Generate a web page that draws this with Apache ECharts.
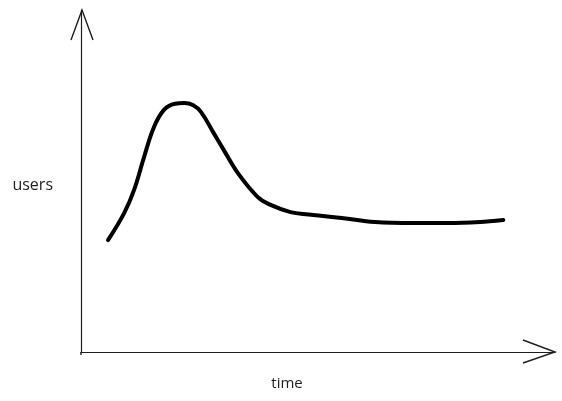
<!DOCTYPE html>
<html>
<head>
<meta charset="utf-8">
<script src="https://cdn.jsdelivr.net/npm/echarts@6/dist/echarts.min.js"></script>
<style>html,body{margin:0;padding:0;background:#fff}#c{width:562px;height:401px}</style>
</head>
<body>
<div id="c"></div>
<script>
var timeValues = [5.7, 9.1, 11.2, 13.3, 15.4, 17.5, 19.8, 21.8, 23.6, 25.3, 28.0, 30.1, 33.1, 37.3, 40.0, 44.2, 48.0, 55.0, 62.0, 70.1, 77.3, 84.2, 89.1];
var userValues = [32.7, 40.6, 47.4, 57.0, 65.8, 70.8, 72.6, 72.8, 72.2, 70.2, 64.0, 59.1, 52.3, 45.3, 43.0, 40.9, 40.2, 39.2, 38.0, 37.7, 37.7, 38.0, 38.6];
var xName = 'time';
var yName = 'users';

var chart = echarts.init(document.getElementById('c'));
var font = '"Open Sans", Lato, sans-serif';
var data = timeValues.map(function (t, i) { return [t, userValues[i]]; });
chart.setOption({
  animation: false,
  backgroundColor: '#ffffff',
  grid: { left: 81, right: 7, top: 10, bottom: 49, containLabel: false, outerBoundsMode: 'none' },
  xAxis: {
    type: 'value', min: 0, max: 100,
    name: xName, nameLocation: 'middle', nameGap: 24,
    nameTextStyle: { color: '#1e1e1e', fontSize: 15, fontFamily: font, padding: [0, 62, 0, 0] },
    axisLine: { show: true, onZero: false, lineStyle: { color: '#1e1e1e', width: 1.2 } },
    axisTick: { show: false }, axisLabel: { show: false }, splitLine: { show: false }
  },
  yAxis: {
    type: 'value', min: 0, max: 100,
    name: yName, nameLocation: 'middle', nameGap: 28, nameRotate: 0,
    nameTextStyle: { color: '#1e1e1e', fontSize: 16, fontFamily: font, verticalAlign: 'top', padding: [-4, 0, 0, 0] },
    axisLine: { show: true, onZero: false, lineStyle: { color: '#1e1e1e', width: 1.2 } },
    axisTick: { show: false }, axisLabel: { show: false }, splitLine: { show: false }
  },
  series: [{
    type: 'line', data: data, smooth: 0.4, symbol: 'none',
    lineStyle: { color: '#000000', width: 4, cap: 'round', join: 'round' }
  }]
});

// open chevron arrowheads at the axis ends
var o = chart.convertToPixel({ gridIndex: 0 }, [0, 0]);
var xe = chart.convertToPixel({ gridIndex: 0 }, [100, 0]);
var ye = chart.convertToPixel({ gridIndex: 0 }, [0, 100]);
var ls = { stroke: '#1e1e1e', lineWidth: 1.4, fill: 'none' };
chart.setOption({
  graphic: [
    { type: 'polyline', shape: { points: [[ye[0] - 10, ye[1] + 30], [ye[0] + 1, ye[1]], [ye[0] + 12, ye[1] + 30]] }, style: ls },
    { type: 'polyline', shape: { points: [[xe[0] - 32, xe[1] - 12], [xe[0], xe[1]], [xe[0] - 32, xe[1] + 11]] }, style: ls },
    { type: 'line', shape: { x1: o[0], y1: o[1], x2: o[0], y2: o[1] + 3 }, style: ls }
  ]
});
</script>
</body>
</html>
